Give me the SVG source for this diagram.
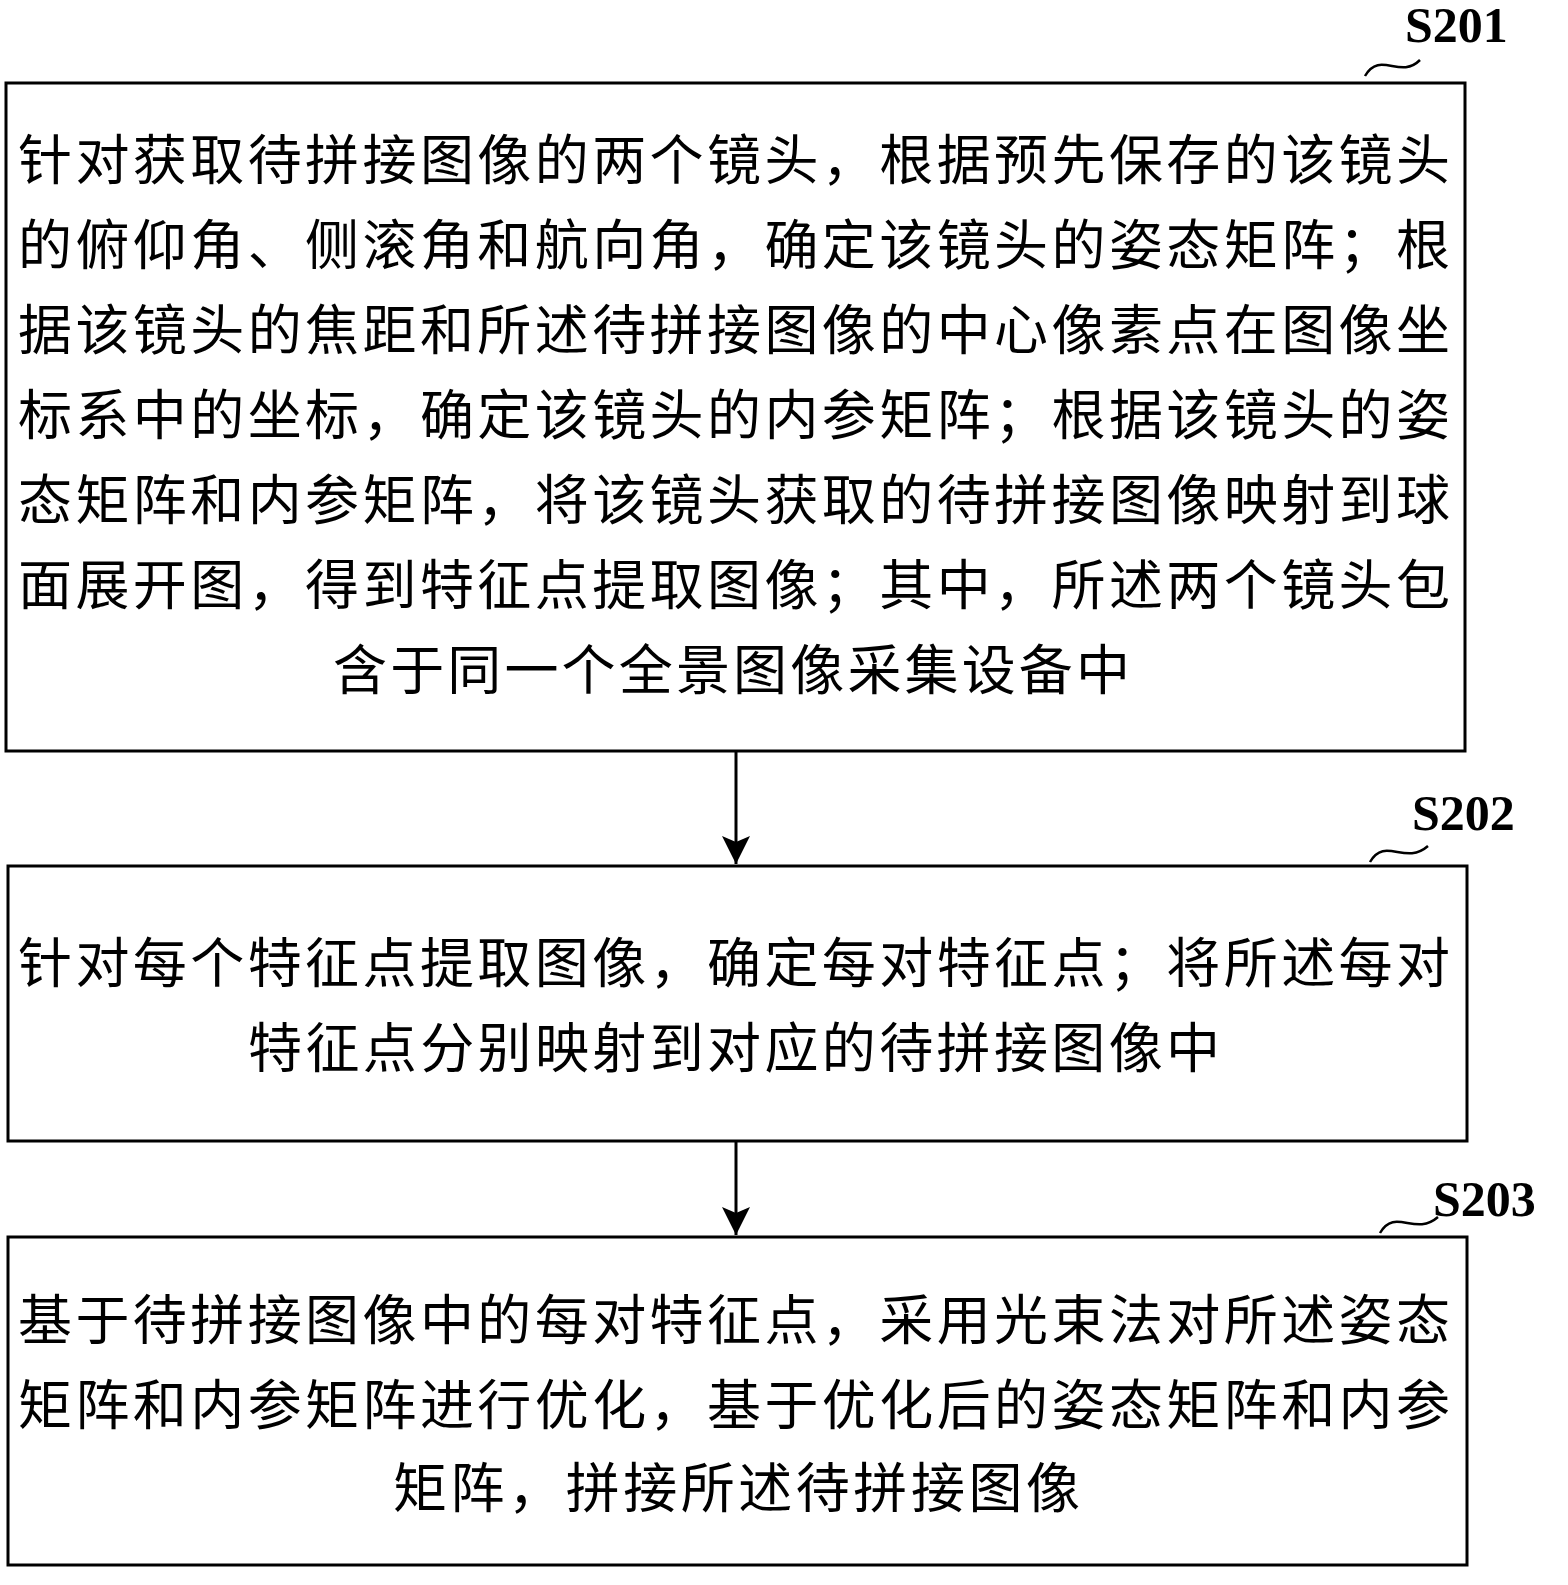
<svg xmlns="http://www.w3.org/2000/svg" width="1568" height="1585" viewBox="0 0 1568 1585">
<style>
.box{fill:#fff;stroke:#000;stroke-width:3}
.t{font-family:"Liberation Serif","Noto Sans CJK SC",serif;font-size:54px;fill:#000}
.lbl{font-family:"Liberation Serif",serif;font-size:50px;font-weight:bold;fill:#000}
.sq{fill:none;stroke:#000;stroke-width:2.5}
.ln{stroke:#000;stroke-width:3}
</style>
<defs>
<marker id="a2" viewBox="0 0 28 28" markerWidth="28" markerHeight="28" refX="14" refY="28" orient="0" markerUnits="userSpaceOnUse"><path d="M0,0 L14,6 L28,0 L14,28 Z" fill="#000"/></marker></defs>
<rect width="1568" height="1585" fill="#fff"/>
<g id="connectors">
<line class="ln" x1="736" y1="751" x2="736" y2="864" marker-end="url(#a2)"/>
<line class="ln" x1="736" y1="1141" x2="736" y2="1235" marker-end="url(#a2)"/>
</g>
<g id="S201">
<rect class="box" x="6" y="83" width="1459" height="668"/>
<text class="lbl" x="1405" y="42">S201</text>
<path class="sq" d="M1365,76 C1380,50 1400,80 1420,60"/>
<text class="t" x="18" y="180" textLength="1432" lengthAdjust="spacing">针对获取待拼接图像的两个镜头，根据预先保存的该镜头</text>
<text class="t" x="18" y="265" textLength="1432" lengthAdjust="spacing">的俯仰角、侧滚角和航向角，确定该镜头的姿态矩阵；根</text>
<text class="t" x="18" y="350" textLength="1432" lengthAdjust="spacing">据该镜头的焦距和所述待拼接图像的中心像素点在图像坐</text>
<text class="t" x="18" y="435" textLength="1432" lengthAdjust="spacing">标系中的坐标，确定该镜头的内参矩阵；根据该镜头的姿</text>
<text class="t" x="18" y="520" textLength="1432" lengthAdjust="spacing">态矩阵和内参矩阵，将该镜头获取的待拼接图像映射到球</text>
<text class="t" x="18" y="605" textLength="1432" lengthAdjust="spacing">面展开图，得到特征点提取图像；其中，所述两个镜头包</text>
<text class="t" x="333" y="690" textLength="797" lengthAdjust="spacing">含于同一个全景图像采集设备中</text>
</g>
<g id="S202">
<rect class="box" x="8" y="866" width="1459" height="275"/>
<text class="lbl" x="1412" y="830">S202</text>
<path class="sq" d="M1370,862 C1385,836 1405,866 1428,846"/>
<text class="t" x="18" y="983" textLength="1432" lengthAdjust="spacing">针对每个特征点提取图像，确定每对特征点；将所述每对</text>
<text class="t" x="248" y="1068" textLength="972" lengthAdjust="spacing">特征点分别映射到对应的待拼接图像中</text>
</g>
<g id="S203">
<rect class="box" x="8" y="1237" width="1459" height="328"/>
<text class="lbl" x="1433" y="1216">S203</text>
<path class="sq" d="M1380,1233 C1395,1207 1415,1237 1438,1217"/>
<text class="t" x="18" y="1340" textLength="1432" lengthAdjust="spacing">基于待拼接图像中的每对特征点，采用光束法对所述姿态</text>
<text class="t" x="18" y="1425" textLength="1432" lengthAdjust="spacing">矩阵和内参矩阵进行优化，基于优化后的姿态矩阵和内参</text>
<text class="t" x="393" y="1508" textLength="687" lengthAdjust="spacing">矩阵，拼接所述待拼接图像</text>
</g>
</svg>
